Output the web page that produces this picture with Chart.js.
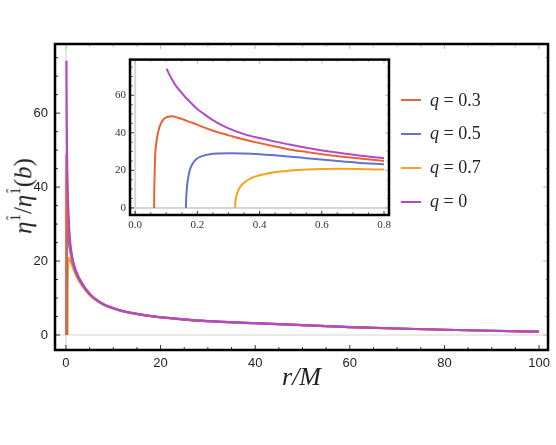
<!DOCTYPE html>
<html lang="en">
<head>
<meta charset="UTF-8">
<title>eta hat ratio vs r/M</title>
<script src="https://cdn.jsdelivr.net/npm/chart.js"></script>
<style>
  body { margin: 0; background: #fff; }
  #wrap { position: relative; width: 556px; height: 445px; overflow: hidden; }
  #mainChart { position: absolute; left: 0; top: 0; }
  #insetChart { position: absolute; left: 100px; top: 49px; }
  .legend-row { position: absolute; left: 401px; height: 20px; display: flex; align-items: center;
    font-family: 'Liberation Serif', serif; font-size: 18px; color: #222; white-space: pre; }
  .legend-row .swatch { width: 20px; height: 2px; margin-right: 9px; }
  #ytitle { position: absolute; left: 23px; top: 196px; transform: translate(-50%, -50%) rotate(-90deg);
    font-family: 'Liberation Serif', serif; font-size: 25px; color: #222; white-space: nowrap; line-height: 1; }
  #ytitle sup { font-size: 15px; position: relative; top: -2px; }
  .hat { position: relative; display: inline-block; }
  .hat .c { position: absolute; left: 0; right: 0; top: -3px; text-align: center; font-size: 14px; }
</style>
</head>
<body>
<div id="wrap">
  <canvas id="mainChart" width="556" height="445"></canvas>
  <canvas id="insetChart" width="295" height="185"></canvas>
  <div id="ytitle"><i>η</i><sup><span class="hat">1<span class="c">ˆ</span></span></sup>/<i>η</i><sup><span class="hat">1<span class="c">ˆ</span></span></sup>(<i>b</i>)</div>
  <div id="legend"></div>
</div>
<script>
// series: q = 0.3, 0.5, 0.7, 0
const seriesQ = ['0.3', '0.5', '0.7', '0'];
const seriesColors = ['#EB6235', '#6373C9', '#F5A31C', '#B24AC6'];

const rQ03 = [0.0608, 0.0612, 0.062, 0.063, 0.064, 0.066, 0.069, 0.074, 0.08, 0.088, 0.096, 0.105, 0.117, 0.135, 0.155,
  0.175, 0.197, 0.225, 0.251, 0.28, 0.304, 0.35, 0.4, 0.45, 0.5, 0.55, 0.607, 0.66, 0.714, 0.8,
  0.9, 1, 1.25, 1.5, 2, 2.5, 3, 4, 5, 6, 8, 10, 12, 15, 19, 25, 30, 40, 50, 60, 70, 80, 90, 100];
const etaQ03 = [0, 8, 14, 21, 27.3, 32, 35.9, 40.5, 44.0, 46.5, 47.9, 48.6, 48.8, 48.2, 47.1,
  45.8, 44.5, 42.6, 41.1, 39.6, 38.5, 36.4, 34.5, 32.7, 31.0, 29.8, 28.5, 27.4, 26.4, 25.0,
  24.0, 23.0, 21.1, 19.6, 17.5, 16.0, 14.7, 12.7, 11.1, 9.9, 8.25, 7.25, 6.5, 5.7, 4.95, 4.2, 3.75, 3.2, 2.65, 2.15, 1.75, 1.42, 1.14, 0.9];

const rQ05 = [0.163, 0.164, 0.165, 0.168, 0.172, 0.176, 0.185, 0.197, 0.215, 0.24, 0.27, 0.304, 0.35, 0.4, 0.45,
  0.5, 0.55, 0.607, 0.66, 0.714, 0.8,
  0.9, 1, 1.25, 1.5, 2, 2.5, 3, 4, 5, 6, 8, 10, 12, 15, 19, 25, 30, 40, 50, 60, 70, 80, 90, 100];
const etaQ05 = [0, 5, 8, 13.5, 17.5, 20.4, 23.7, 26.0, 27.6, 28.6, 29.0, 29.1, 29.0, 28.6, 28.0,
  27.3, 26.5, 25.6, 24.8, 24.1, 23.3,
  22.6, 22.0, 20.5, 19.2, 17.2, 15.7, 14.5, 12.6, 11.0, 9.85, 8.2, 7.2, 6.45, 5.68, 4.93, 4.18, 3.74, 3.2, 2.65, 2.15, 1.75, 1.42, 1.14, 0.9];

const rQ07 = [0.321, 0.322, 0.326, 0.336, 0.357, 0.38, 0.4, 0.447, 0.5, 0.55, 0.607, 0.66, 0.714, 0.8,
  0.9, 1, 1.25, 1.5, 2, 2.5, 3, 4, 5, 6, 8, 10, 12, 15, 19, 25, 30, 40, 50, 60, 70, 80, 90, 100];
const etaQ07 = [0, 3, 6.6, 10.9, 14.3, 16.4, 17.4, 19.0, 19.9, 20.4, 20.7, 20.8, 20.7, 20.4,
  20.1, 19.8, 19.0, 18.1, 16.5, 15.2, 14.1, 12.3, 10.8, 9.7, 8.1, 7.15, 6.4, 5.65, 4.92, 4.17, 3.73, 3.19, 2.64, 2.14, 1.74, 1.41, 1.13, 0.9];

const rQ0 = [0.101, 0.11, 0.12, 0.13, 0.144, 0.16, 0.18, 0.197, 0.22, 0.251, 0.28, 0.304, 0.35, 0.4, 0.45,
  0.5, 0.55, 0.607, 0.66, 0.714, 0.8,
  0.9, 1, 1.25, 1.5, 2, 2.5, 3, 4, 5, 6, 8, 10, 12, 15, 19, 25, 30, 40, 50, 60, 70, 80, 90, 100];
const etaQ0 = [74.2, 71, 68, 65.3, 62.4, 59.2, 55.8, 53.1, 50.2, 46.6, 44.0, 42.1, 39.3, 37.2, 35.3,
  33.6, 32.0, 30.5, 29.2, 28.0, 26.4,
  25.0, 23.8, 21.6, 20.0, 17.8, 16.2, 14.9, 12.8, 11.2, 10.0, 8.3, 7.3, 6.5, 5.7, 4.95, 4.2, 3.75, 3.2, 2.65, 2.15, 1.75, 1.42, 1.14, 0.9];

const seriesR = [rQ03, rQ05, rQ07, rQ0];
const seriesEta = [etaQ03, etaQ05, etaQ07, etaQ0];

const mainXTicks = [0, 20, 40, 60, 80, 100];
const mainYTicks = [0, 20, 40, 60];
const insetXTicks = [0, 0.2, 0.4, 0.6, 0.8];
const insetYTicks = [0, 20, 40, 60];

// frame with inward ticks on all sides + light zero lines
const framePlugin = {
  id: 'frame',
  beforeDatasetsDraw(chart, args, o) {
    const { ctx, chartArea: a, scales: { x, y } } = chart;
    ctx.save();
    ctx.fillStyle = '#fff';
    ctx.fillRect(a.left, a.top, a.width, a.height);
    ctx.strokeStyle = '#d6d6d6';
    ctx.lineWidth = o.zeroWidth;
    const px = x.getPixelForValue(0), py = y.getPixelForValue(0);
    ctx.beginPath();
    ctx.moveTo(px, a.top); ctx.lineTo(px, a.bottom);
    ctx.moveTo(a.left, py); ctx.lineTo(a.right, py);
    ctx.stroke();
    ctx.restore();
  },
  afterDatasetsDraw(chart, args, o) {
    const { ctx, chartArea: a, scales: { x, y } } = chart;
    ctx.save();
    ctx.lineWidth = 1;
    const walk = (scale, step, majors, fn) => {
      const start = Math.ceil(scale.min / step);
      for (let i = start; i * step <= scale.max + 1e-9; i++) {
        const v = i * step;
        const major = majors.some(m => Math.abs(m - v) < step / 10);
        fn(scale.getPixelForValue(v), major ? o.major : o.minor);
      }
    };
    walk(x, o.xStep, o.xMajors, (p, len) => {
      ctx.strokeStyle = '#333';
      ctx.beginPath(); ctx.moveTo(p, a.bottom); ctx.lineTo(p, a.bottom - len); ctx.stroke();
      ctx.strokeStyle = '#bbb';
      ctx.beginPath(); ctx.moveTo(p, a.top); ctx.lineTo(p, a.top + len); ctx.stroke();
    });
    walk(y, o.yStep, o.yMajors, (p, len) => {
      ctx.strokeStyle = '#333';
      ctx.beginPath(); ctx.moveTo(a.left, p); ctx.lineTo(a.left + len, p); ctx.stroke();
      ctx.strokeStyle = '#bbb';
      ctx.beginPath(); ctx.moveTo(a.right, p); ctx.lineTo(a.right - len, p); ctx.stroke();
    });
    ctx.strokeStyle = '#000';
    ctx.lineWidth = o.borderWidth;
    ctx.strokeRect(a.left, a.top, a.width, a.height);
    ctx.restore();
  }
};

function makeDatasets(maxR, width) {
  return seriesR.map((rs, i) => ({
    label: 'q = ' + seriesQ[i],
    data: rs.map((r, j) => ({ x: r, y: seriesEta[i][j] })).filter(p => p.x <= maxR),
    borderColor: seriesColors[i],
    borderWidth: width,
    pointRadius: 0,
    showLine: true,
    fill: false,
    cubicInterpolationMode: 'monotone',
    order: seriesQ[i] === '0' ? 0 : i + 1
  }));
}

Chart.defaults.animation = false;

new Chart(document.getElementById('mainChart'), {
  type: 'scatter',
  data: { datasets: makeDatasets(1000, 2.2) },
  options: {
    responsive: false,
    layout: { padding: { top: 44, right: 6, left: 0, bottom: 0 } },
    plugins: {
      legend: { display: false },
      tooltip: { enabled: false },
      frame: { zeroWidth: 1.2, borderWidth: 2.5, major: 5, minor: 3, xStep: 5, yStep: 5, xMajors: mainXTicks, yMajors: mainYTicks }
    },
    scales: {
      x: {
        type: 'linear', min: -2.32, max: 101.9,
        border: { display: false },
        grid: { display: false, drawTicks: false },
        afterBuildTicks: s => { s.ticks = mainXTicks.map(v => ({ value: v })); },
        afterFit: s => { s.height = 95; },
        ticks: { padding: 6, maxRotation: 0, color: '#222', font: { family: 'Liberation Sans', size: 13 } },
        title: { display: true, text: 'r/M', color: '#222',
          font: { family: 'Liberation Serif', style: 'italic', size: 26 }, padding: { bottom: 51 } }
      },
      y: {
        type: 'linear', min: -4.06, max: 78.7,
        border: { display: false },
        grid: { display: false, drawTicks: false },
        afterBuildTicks: s => { s.ticks = mainYTicks.map(v => ({ value: v })); },
        afterFit: s => { s.width = 55; },
        ticks: { padding: 7, color: '#222', font: { family: 'Liberation Sans', size: 13 } }
      }
    }
  },
  plugins: [framePlugin]
});

new Chart(document.getElementById('insetChart'), {
  type: 'scatter',
  data: { datasets: makeDatasets(0.8, 2) },
  options: {
    responsive: false,
    layout: { padding: { top: 6, right: 6, left: 0, bottom: 0 } },
    plugins: {
      legend: { display: false },
      tooltip: { enabled: false },
      frame: { zeroWidth: 2, borderWidth: 2.5, major: 4, minor: 2.5, xStep: 0.05, yStep: 5, xMajors: insetXTicks, yMajors: insetYTicks }
    },
    scales: {
      x: {
        type: 'linear', min: -0.0167, max: 0.816,
        border: { display: false },
        grid: { display: false, drawTicks: false },
        afterBuildTicks: s => { s.ticks = insetXTicks.map(v => ({ value: v })); },
        afterFit: s => { s.height = 19; },
        ticks: { padding: 4, maxRotation: 0, color: '#333', font: { family: 'Liberation Serif', size: 11 },
          callback: v => v.toFixed(1) }
      },
      y: {
        type: 'linear', min: -3.78, max: 79,
        border: { display: false },
        grid: { display: false, drawTicks: false },
        afterBuildTicks: s => { s.ticks = insetYTicks.map(v => ({ value: v })); },
        afterFit: s => { s.width = 30; },
        ticks: { padding: 4, color: '#333', font: { family: 'Liberation Serif', size: 11 } }
      }
    }
  },
  plugins: [framePlugin]
});

// legend to the right of the inset
const legendTops = [90, 123.5, 157.5, 191.5];
const legend = document.getElementById('legend');
seriesQ.forEach((q, i) => {
  const row = document.createElement('div');
  row.className = 'legend-row';
  row.style.top = legendTops[i] + 'px';
  row.innerHTML = `<span class="swatch" style="background:${seriesColors[i]}"></span><i>q</i> = ${q}`;
  legend.appendChild(row);
});
</script>
</body>
</html>
